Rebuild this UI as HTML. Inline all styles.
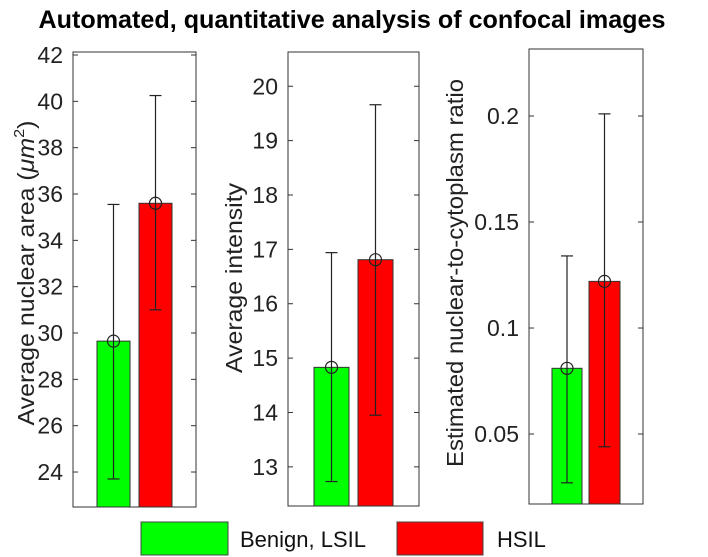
<!DOCTYPE html>
<html><head><meta charset="utf-8"><style>
html,body{margin:0;padding:0;background:#fff;}
svg{display:block;font-family:"Liberation Sans",sans-serif;}
</style></head><body>
<svg id="chart" width="708" height="557" viewBox="0 0 708 557" xmlns="http://www.w3.org/2000/svg">
<text x="352" y="28" text-anchor="middle" font-size="25" font-weight="bold" textLength="627" lengthAdjust="spacingAndGlyphs" fill="#000">Automated, quantitative analysis of confocal images</text>
<g id="panels"></g>
<rect x="141" y="522" width="87" height="33" fill="#00ff00" stroke="#444" stroke-width="1"/>
<text x="240" y="547" font-size="22" fill="#111">Benign, LSIL</text>
<rect x="397" y="522" width="86" height="33" fill="#ff0000" stroke="#444" stroke-width="1"/>
<text x="497" y="547" font-size="22" fill="#111">HSIL</text>
</svg>
<script>
const categories = ["Benign, LSIL", "HSIL"];
const areaMeans = [29.65, 35.6];
const areaLow = [23.7, 31.0];
const areaHigh = [35.55, 40.25];
const areaTicks = [24, 26, 28, 30, 32, 34, 36, 38, 40, 42];
const intensityMeans = [14.83, 16.81];
const intensityLow = [12.73, 13.95];
const intensityHigh = [16.94, 19.66];
const intensityTicks = [13, 14, 15, 16, 17, 18, 19, 20];
const ratioMeans = [0.081, 0.122];
const ratioLow = [0.027, 0.044];
const ratioHigh = [0.134, 0.201];
const ratioTicks = [0.05, 0.1, 0.15, 0.2];
const ratioTickLabels = ["0.05", "0.1", "0.15", "0.2"];

const NS = "http://www.w3.org/2000/svg";
const root = document.getElementById('panels');
function mk(tag, attrs, parent){const e=document.createElementNS(NS,tag);for(const k in attrs)e.setAttribute(k,attrs[k]);parent.appendChild(e);return e;}
const colors = ["#00ff00", "#ff0000"];

const panels = [
 {key:"area", box:[73,52,196,507], dom:[22.49,42.13], means:areaMeans, low:areaLow, high:areaHigh, ticks:areaTicks, labels:areaTicks.map(String), bars:[[97,130],[139,172]], title:'', lx:34, cy:273, len:305},
 {key:"intensity", box:[288,52,419,506], dom:[12.28,20.63], means:intensityMeans, low:intensityLow, high:intensityHigh, ticks:intensityTicks, labels:intensityTicks.map(String), bars:[[314,349],[358,393]], title:'Average intensity', lx:242, cy:278, len:190},
 {key:"ratio", box:[529,49,643,504], dom:[0.017,0.2316], means:ratioMeans, low:ratioLow, high:ratioHigh, ticks:ratioTicks, labels:ratioTickLabels, bars:[[552,582],[589,620]], title:'Estimated nuclear-to-cytoplasm ratio', lx:463, cy:273, len:388}
];

panels.forEach(p=>{
  const [x0,y0,x1,y1]=p.box;
  const y=v=>y1-(v-p.dom[0])/(p.dom[1]-p.dom[0])*(y1-y0);
  const g=mk('g',{},root);
  
  
  const frame=mk('rect',{x:x0,y:y0,width:x1-x0,height:y1-y0,fill:'#fff',stroke:'#333','stroke-width':1},g);
  
  
  p.ticks.forEach((t,i)=>{
    const ty=y(t);
    mk('line',{x1:x0,x2:x0+5,y1:ty,y2:ty,stroke:'#333'},g);
    mk('line',{x1:x1,x2:x1-5,y1:ty,y2:ty,stroke:'#333'},g);
    const tl=mk('text',{x:x0-10,y:ty+8,'text-anchor':'end','font-size':23,fill:'#222'},g);
    tl.textContent=p.labels[i];
    
    
  });
  p.means.forEach((m,i)=>{
    const [bx0,bx1]=p.bars[i];
    const cx=(bx0+bx1)/2;
    const b=mk('rect',{x:bx0,y:y(m),width:bx1-bx0,height:y1-y(m),fill:colors[i],stroke:'#333','stroke-width':1},g);
    
    
    const e=mk('g',{stroke:'#222','stroke-width':1.2,fill:'none'},g);
    
    
    mk('line',{x1:cx,x2:cx,y1:y(p.low[i]),y2:y(p.high[i])},e);
    mk('line',{x1:cx-6,x2:cx+6,y1:y(p.low[i]),y2:y(p.low[i])},e);
    mk('line',{x1:cx-6,x2:cx+6,y1:y(p.high[i]),y2:y(p.high[i])},e);
    mk('circle',{cx:cx,cy:y(m),r:6},e);
  });
  const cy=p.cy;
  const attrs={x:p.lx,y:cy,'text-anchor':'middle','font-size':23,fill:'#222',transform:`rotate(-90 ${p.lx} ${cy})`};
  if(p.len){attrs.textLength=p.len;attrs.lengthAdjust='spacingAndGlyphs';}
  const t=mk('text',attrs,g);
  
  
  if(p.key==='area'){
    t.appendChild(document.createTextNode('Average nuclear area ('));
    const s1=mk('tspan',{'font-style':'italic'},t); s1.textContent='\u03bcm';
    const s2=mk('tspan',{'font-size':15,dy:-10},t); s2.textContent='2';
    const s3=mk('tspan',{dy:10},t); s3.textContent=')';
  } else t.textContent=p.title;
});
</script>
</body></html>
